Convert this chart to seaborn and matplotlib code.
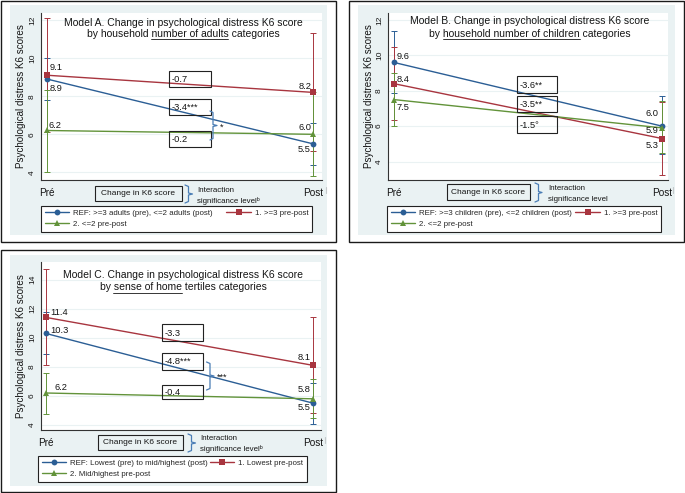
import matplotlib
matplotlib.use("Agg")
import matplotlib.pyplot as plt
import matplotlib.transforms as mtransforms
from matplotlib.patches import Rectangle
from matplotlib.lines import Line2D
import numpy as np
import pandas as pd
import seaborn as sns

sns.set_style("white")
plt.rcParams["font.family"] = ["Liberation Sans", "DejaVu Sans"]

# ---------------- data ----------------
periods = ["Pré", "Post"]
ylabel = "Psychological distress K6 scores"
change_label = "Change in K6 score"

# Panel A
a_title1 = "Model A. Change in psychological distress K6 score"
a_title2 = ["by household ", "number of adults", " categories"]
a_names = ["REF: >=3 adults (pre), <=2 adults (post)", "1. >=3 pre-post", "2. <=2 pre-post"]
a_ref = [8.9, 5.5]
a_ref_lo = [7.8, 4.4]
a_ref_hi = [10.0, 6.6]
a_g1 = [9.1, 8.2]
a_g1_lo = [6.1, 5.1]
a_g1_hi = [12.1, 11.3]
a_g2 = [6.2, 6.0]
a_g2_lo = [4.0, 3.8]
a_g2_hi = [8.35, 8.2]
a_changes = ["-0.7", "-3.4***", "-0.2"]
a_sig = "*"
a_yticks = [4, 6, 8, 10, 12]
a_interaction = ["Interaction", "significance level\u1d47"]

# Panel B
b_title1 = "Model B. Change in psychological distress K6 score"
b_title2 = ["by ", "household number of children", " categories"]
b_names = ["REF: >=3 children (pre), <=2 children (post)", "1. >=3 pre-post", "2. <=2 pre-post"]
b_ref = [9.6, 6.0]
b_ref_lo = [7.85, 4.4]
b_ref_hi = [11.35, 7.7]
b_g1 = [8.4, 5.3]
b_g1_lo = [6.35, 3.25]
b_g1_hi = [10.45, 7.35]
b_g2 = [7.5, 5.9]
b_g2_lo = [6.0, 4.5]
b_g2_hi = [9.0, 7.4]
b_changes = ["-3.6**", "-3.5**", "-1.5°"]
b_yticks = [4, 6, 8, 10, 12]
b_interaction = ["Interaction", "significance level"]

# Panel C
c_title1 = "Model C. Change in psychological distress K6 score"
c_title2 = ["by ", "sense of home", " tertiles categories"]
c_names = ["REF: Lowest (pre) to mid/highest (post)", "1. Lowest pre-post", "2. Mid/highest pre-post"]
c_ref = [10.3, 5.5]
c_ref_lo = [8.85, 4.1]
c_ref_hi = [11.75, 6.9]
c_g1 = [11.4, 8.1]
c_g1_lo = [8.1, 4.8]
c_g1_hi = [14.75, 11.4]
c_g2 = [6.2, 5.8]
c_g2_lo = [4.75, 4.45]
c_g2_hi = [7.6, 7.15]
c_changes = ["-3.3", "-4.8***", "-0.4"]
c_sig = "***"
c_yticks = [4, 6, 8, 10, 12, 14]
c_interaction = ["Interaction", "significance level\u1d47"]

# ---------------- style ----------------
COLORS = ["#2b5e95", "#a8353f", "#62933a"]   # REF, 1., 2.
MARKERS = ["o", "s", "^"]
BG = "#eaf2f3"
BRACE = "#4a7db5"
INK = "#151515"

W, H = 685, 493
fig = plt.figure(figsize=(W / 100, H / 100), dpi=100)
fig.patch.set_facecolor("white")
PX = mtransforms.Affine2D().scale(1 / W, -1 / H).translate(0, 1) + fig.transFigure
R = fig.canvas.get_renderer()


def rect(x0, y0, x1, y1, **kw):
    fig.patches.append(Rectangle((x0, y0), x1 - x0, y1 - y0, transform=PX, **kw))


def line(xs, ys, **kw):
    fig.lines.append(Line2D(xs, ys, transform=PX, **kw))


def text_w(s, size):
    t = fig.text(0, 0, s, fontsize=size)
    w = t.get_window_extent(R).width
    t.remove()
    return w


def title_line(cx, base, parts, size):
    prefix, under, suffix = parts
    t = fig.text(cx, base, prefix + under + suffix, transform=PX, ha="center",
                 va="baseline", fontsize=size, color=INK)
    left = t.get_window_extent(R).x0
    start = left + text_w(prefix + "I", size) - text_w("I", size)
    end = left + text_w(prefix + under, size)
    line([start, end], [base + 2.2, base + 2.2], color=INK, lw=0.6)


def brace(x0, x1, y0, y1, tip):
    ym = (y0 + y1) / 2
    line([x0, x1, x1, tip, x1, x1, x0], [y0, y0 + 1.5, ym - 1, ym, ym + 1, y1 - 1.5, y1],
         color=BRACE, lw=0.9)


def panel(P):
    rect(*P["border"], fill=False, ec="#1a1a1a", lw=1.0, zorder=-1)
    rect(*P["bg"], fc=BG, ec="none", zorder=-2)
    ax0, ay0, ax1, ay1 = P["ax"]
    ax = fig.add_axes([ax0 / W, 1 - ay1 / H, (ax1 - ax0) / W, (ay1 - ay0) / H])
    ax.set_facecolor("white")

    names = P["names"]
    series = P["series"]
    df = pd.DataFrame({
        "x": [0, 1] * 3,
        "score": series[0][0] + series[1][0] + series[2][0],
        "group": [names[0]] * 2 + [names[1]] * 2 + [names[2]] * 2,
    })
    sns.lineplot(data=df, x="x", y="score", hue="group", style="group",
                 hue_order=names, style_order=names, palette=COLORS,
                 markers=MARKERS, dashes=False, markersize=4.2, linewidth=1.0,
                 errorbar=None, sort=False, legend=False, ax=ax, zorder=3)
    handles = list(ax.get_lines())[:3]
    for h in handles:
        h.set_markeredgecolor(h.get_color())
        h.set_markeredgewidth(0)
    for (vals, lo, hi), c in zip(series, COLORS):
        ax.errorbar([0, 1], vals, yerr=[np.subtract(vals, lo), np.subtract(hi, vals)],
                    fmt="none", ecolor=c, elinewidth=0.7, capsize=2.3, capthick=0.7,
                    zorder=2)

    unit = P["post"] - P["pre"]
    ax.set_xlim((ax0 - P["pre"]) / unit, (ax1 - P["pre"]) / unit)
    v1, p1, v2, p2 = P["ymap"]
    ppu = (p2 - p1) / (v1 - v2)
    ax.set_ylim(v2 - (ay1 - p2) / ppu, v1 + (p1 - ay0) / ppu)

    ax.set_xticks([0, 1])
    ax.set_xticklabels(periods, fontsize=7.2, color=INK)
    ax.set_yticks(P["yticks"])
    ax.set_yticklabels([str(v) for v in P["yticks"]], fontsize=6.0, color=INK)
    ax.tick_params(axis="y", labelrotation=90, length=2.3, width=0.7, pad=1.4, color="#333")
    ax.tick_params(axis="x", length=3, width=0.7, pad=2.5, color="#333")
    for lab in ax.get_yticklabels():
        lab.set_verticalalignment("center")
    ax.set_xlabel("")
    ax.set_ylabel(ylabel, fontsize=7.1, color=INK)
    ax.yaxis.label.set_verticalalignment("center")
    ax.yaxis.set_label_coords((P["ylab_x"] - ax0) / (ax1 - ax0), 0.5)
    ax.grid(axis="y", color=BG, lw=0.8)
    ax.grid(axis="x", visible=False)
    for s in ["top", "right"]:
        ax.spines[s].set_visible(False)
    for s in ["left", "bottom"]:
        ax.spines[s].set_color("#333")
        ax.spines[s].set_linewidth(0.8)

    # value labels
    k = 0.72
    for (si, pi, dx, dy, ha) in P["labels"]:
        v = series[si][0][pi]
        ax.annotate(f"{v:.1f}", (pi, v), xytext=(dx * k, dy * k), textcoords="offset points",
                    ha=ha, va="center", fontsize=6.7, color=INK, zorder=5)

    # legend
    lx0, ly0, lx1 = P["legend"]
    ax.legend(handles=[handles[0], handles[2], handles[1]],
              labels=[names[0], names[2], names[1]], ncol=2, loc="upper left",
              bbox_to_anchor=(lx0 / W, 1 - ly0 / H, (lx1 - lx0) / W, 0),
              bbox_transform=fig.transFigure, mode="expand", borderaxespad=0,
              fontsize=5.7, frameon=True, fancybox=False, framealpha=1,
              edgecolor="#222", handlelength=3.1, handletextpad=0.5,
              labelspacing=0.42, borderpad=0.45, columnspacing=0.5)
    ax.get_legend().get_frame().set_linewidth(0.8)

    # title
    tcx, tb1, tb2 = P["title_pos"]
    fig.text(tcx, tb1, P["title1"], transform=PX, ha="center", va="baseline",
             fontsize=7.5, color=INK)
    title_line(tcx, tb2, P["title2"], 7.5)

    # change boxes
    bx0, bx1 = P["box_x"]
    for (y0, y1), s in zip(P["box_y"], P["changes"]):
        rect(bx0, y0, bx1, y1, fill=False, ec="#222", lw=0.8)
        fig.text(bx0 + 3, (y0 + y1) / 2 + 0.5, s, transform=PX, ha="left", va="center",
                 fontsize=6.7, color=INK)
    if P.get("sig"):
        x0, x1, y0, y1, tip = P["sig_brace"]
        brace(x0, x1, y0, y1, tip)
        fig.text(tip + 3, (y0 + y1) / 2 + 1.5, P["sig"], transform=PX, ha="left",
                 va="center", fontsize=6.7, color=INK)

    # bottom annotation
    cx0, cy0, cx1, cy1 = P["cbox"]
    rect(cx0, cy0, cx1, cy1, fill=False, ec="#222", lw=0.8)
    fig.text((cx0 + cx1) / 2, (cy0 + cy1) / 2, change_label, transform=PX, ha="center",
             va="center", fontsize=6.0, color=INK)
    x0, x1, y0, y1, tip = P["cbrace"]
    brace(x0, x1, y0, y1, tip)
    ix, iy1, iy2 = P["inter_pos"]
    fig.text(ix, iy1, P["interaction"][0], transform=PX, ha="left", va="center",
             fontsize=5.7, color=INK)
    fig.text(ix, iy2, P["interaction"][1], transform=PX, ha="left", va="center",
             fontsize=5.7, color=INK)
    sx, sy = P["stray"]
    line([sx, sx], [sy - 3, sy + 3], color="#c4c8ca", lw=0.8)


PA = dict(
    border=(1, 1, 336, 242), bg=(10, 5, 327, 235), ax=(41, 13, 322, 180),
    pre=47, post=313, ymap=(12, 20, 4, 172.4), yticks=a_yticks, ylab_x=21.5,
    names=a_names,
    series=[(a_ref, a_ref_lo, a_ref_hi), (a_g1, a_g1_lo, a_g1_hi), (a_g2, a_g2_lo, a_g2_hi)],
    labels=[(0, 0, 3, -9.5, "left"), (0, 1, -2, -6, "right"),
            (1, 0, 3, 8, "left"), (1, 1, -2, 6, "right"),
            (2, 0, 1.5, 5, "left"), (2, 1, -2, 6.7, "right")],
    legend=(41, 206, 312),
    title1=a_title1, title2=a_title2, title_pos=(183, 26.5, 37),
    box_x=(169, 211), box_y=[(71, 87), (99, 115), (131, 147)], changes=a_changes,
    sig=a_sig, sig_brace=(210, 213, 111, 140, 217),
    cbox=(95, 186, 182, 201), cbrace=(185, 188.5, 185, 203, 192.5),
    inter_pos=(197, 190, 201), interaction=a_interaction, stray=(326, 190),
)

PB = dict(
    border=(349, 1, 684, 242), bg=(358, 5, 675, 235), ax=(388, 13, 668, 180),
    pre=394, post=662, ymap=(12, 20, 4, 161.5), yticks=b_yticks, ylab_x=368.5,
    names=b_names,
    series=[(b_ref, b_ref_lo, b_ref_hi), (b_g1, b_g1_lo, b_g1_hi), (b_g2, b_g2_lo, b_g2_hi)],
    labels=[(0, 0, 3, 5.7, "left"), (0, 1, -4, 13, "right"),
            (1, 0, 3, 4.6, "left"), (1, 1, -3.5, -6.5, "right"),
            (2, 0, 3, -8.4, "left"), (2, 1, -3.5, -3, "right")],
    legend=(387, 206, 661),
    title1=b_title1, title2=b_title2, title_pos=(530, 24.5, 37),
    box_x=(517, 557), box_y=[(76, 93), (96, 112), (116, 133)], changes=b_changes,
    sig=None,
    cbox=(447, 184, 530, 200), cbrace=(535, 538.5, 183, 202, 542),
    inter_pos=(548, 189, 199.5), interaction=b_interaction, stray=(673, 190),
)

PC = dict(
    border=(1, 250, 336, 492), bg=(10, 255, 327, 486), ax=(41, 262, 321, 430),
    pre=45.5, post=313, ymap=(14, 279.5, 4, 425), yticks=c_yticks, ylab_x=21.5,
    names=c_names,
    series=[(c_ref, c_ref_lo, c_ref_hi), (c_g1, c_g1_lo, c_g1_hi), (c_g2, c_g2_lo, c_g2_hi)],
    labels=[(0, 0, 5, 2.6, "left"), (0, 1, -2.5, -4, "right"),
            (1, 0, 5, 4.4, "left"), (1, 1, -2.5, 8.3, "right"),
            (2, 0, 9, 5, "left"), (2, 1, -2.5, 9.2, "right")],
    legend=(38, 456, 307),
    title1=c_title1, title2=c_title2, title_pos=(183, 277.5, 290.5),
    box_x=(162, 203), box_y=[(324, 341), (353, 370), (385, 399)], changes=c_changes,
    sig=c_sig, sig_brace=(206.5, 210, 362, 390, 214),
    cbox=(98, 435, 183, 450), cbrace=(188, 191.5, 434, 452, 195.5),
    inter_pos=(200, 438, 449), interaction=c_interaction, stray=(325, 440),
)

for P in (PA, PB, PC):
    panel(P)

fig.savefig("out.png", dpi=100, facecolor="white")
